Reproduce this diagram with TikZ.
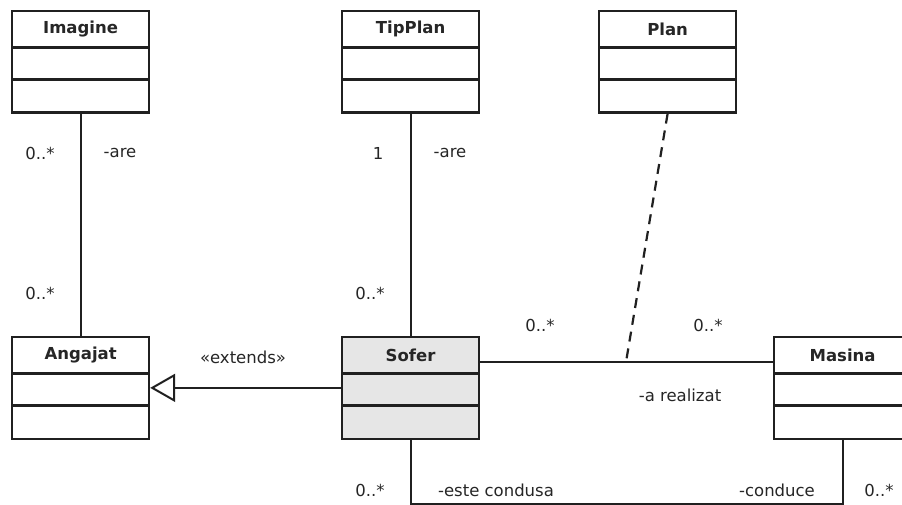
\documentclass[tikz,border=0pt]{standalone}
\usepackage{fontspec}
\setmainfont{DejaVu Sans}
\usetikzlibrary{calc,arrows.meta}
\definecolor{umlline}{HTML}{202020}
\definecolor{umltext}{HTML}{262626}
\definecolor{umlfill}{HTML}{E6E6E6}
\tikzset{
  classbox/.style={draw=umlline, line width=2.2pt, minimum width=137pt,
    minimum height=101.5pt, anchor=north west, inner sep=0pt},
  classsep/.style={draw=umlline, line width=2.2pt},
  classtitle/.style={font=\fontsize{16.5}{20}\selectfont\bfseries,
    text=umltext, inner sep=0pt},
  lbl/.style={font=\fontsize{16.5}{20}\selectfont, text=umltext, inner sep=0pt},
  assoc/.style={draw=umlline, line width=2.2pt},
  depline/.style={draw=umlline, line width=2.2pt, dash pattern=on 10pt off 7pt},
  genline/.style={draw=umlline, line width=2.2pt,
    -{Triangle[open, length=25pt, width=28pt, line width=2pt]}},
}
% \umlclass{name}{left}{top}{title}{fill}: three-compartment class box
\newcommand\umlclass[5]{%
  \node[classbox, fill=#5] (#1) at (#2,#3) {};
  \draw[classsep] ($(#1.north west)+(0,37.5)$) -- ($(#1.north east)+(0,37.5)$);
  \draw[classsep] ($(#1.north west)+(0,69.5)$) -- ($(#1.north east)+(0,69.5)$);
  \node[classtitle] (#1-title) at ($(#1.north)+(0,19)$) {#4};
}
\begin{document}
\begin{tikzpicture}[x=1pt, y=-1pt]
  \clip (0,0) rectangle (902,505);
  \fill[white] (0,0) rectangle (902,505);

  % classes
  \umlclass{imagine}{11}{10}{Imagine}{white}
  \umlclass{tipplan}{341}{10}{TipPlan}{white}
  \umlclass{plan}{598}{10}{Plan}{white}
  \umlclass{angajat}{11}{336}{Angajat}{white}
  \umlclass{sofer}{341}{336}{Sofer}{umlfill}
  \umlclass{masina}{773}{336}{Masina}{white}

  % associations
  \draw[assoc] (imagine.south) -- (angajat.north);
  \draw[assoc] (tipplan.south) -- (sofer.north);
  \draw[assoc] ([yshift=-26pt]sofer.north east) -- ([yshift=-26pt]masina.north west);
  \coordinate (planjoin) at (626,362);
  \draw[depline] (plan.south) -- (planjoin);
  \draw[assoc] (sofer.south) -- ++(0,64.5) -| (masina.south);

  % generalization
  \draw[genline] (sofer.west) -- (angajat.east);

  % role names and multiplicities
  \node[lbl] (m1) at (40,153) {0..*};
  \node[lbl] (r1) at (120,153) {-are};
  \node[lbl] (m2) at (40,293) {0..*};
  \node[lbl] (m3) at (378,153) {1};
  \node[lbl] (r2) at (450,153) {-are};
  \node[lbl] (m4) at (370,293) {0..*};
  \node[lbl] (st) at (243,357) {«extends»};
  \node[lbl] (m5) at (540,325) {0..*};
  \node[lbl] (m6) at (708,325) {0..*};
  \node[lbl] (r3) at (680,395) {-a realizat};
  \node[lbl] (m7) at (370,490) {0..*};
  \node[lbl] (r4) at (496,490) {-este condusa};
  \node[lbl] (r5) at (777,490) {-conduce};
  \node[lbl] (m8) at (879,490) {0..*};
\end{tikzpicture}
\end{document}
